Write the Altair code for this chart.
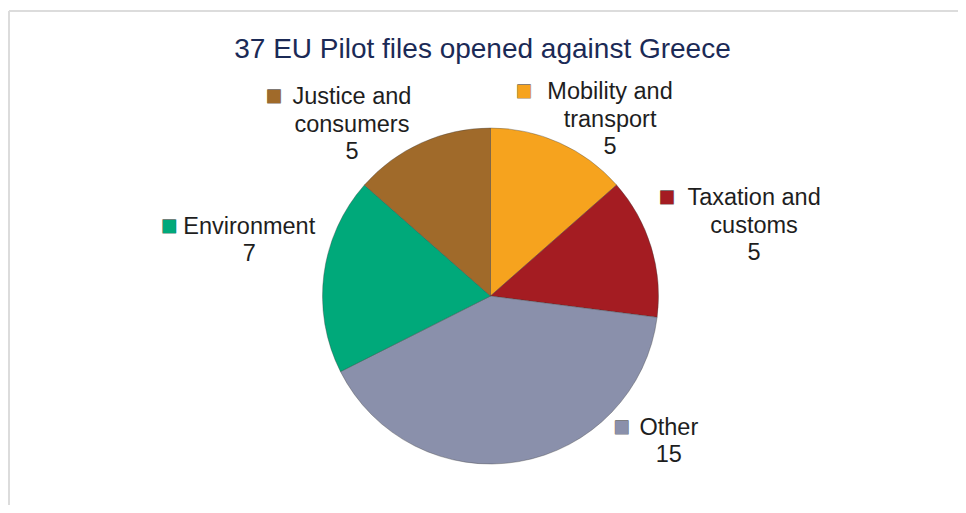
import altair as alt
import pandas as pd

# ---- data ----
categories = ["Mobility and transport", "Taxation and customs", "Other",
              "Environment", "Justice and consumers"]
label_lines = [["Mobility and", "transport"], ["Taxation and", "customs"], ["Other"],
               ["Environment"], ["Justice and", "consumers"]]
values = [5, 5, 15, 7, 5]
colors = ["#F6A31E", "#A41C22", "#8A90AB", "#00A97A", "#A06A2A"]
title_text = "37 EU Pilot files opened against Greece"

df = pd.DataFrame({
    "category": categories,
    "count": values,
    "order": list(range(len(categories))),
    "label": ["\n".join(lines + [str(v)]) for lines, v in zip(label_lines, values)],
})

# ---- layout (not data) ----
W, H = 935, 418
PAD = {"left": 15, "top": 79, "right": 0, "bottom": 0}
R = 168          # pie radius
LR = 215         # label anchor radius
# label dx, dy, marker dx, marker dy (relative to the label anchor on the slice's mid angle)
label_layout = {
    "Mobility and transport": (31, -8, -86, -1),
    "Taxation and customs": (58, -35, -87, -1),
    "Other": (142, -80, -47, -1),
    "Environment": (-28, -42, -80, -1),
    "Justice and consumers": (-50, -3, -78, -1),
}

color_scale = alt.Scale(domain=categories, range=colors)

base = alt.Chart(df).encode(
    theta=alt.Theta("count:Q", stack=True),
    order=alt.Order("order:Q"),
)

pie = base.mark_arc(outerRadius=R, stroke="#3a3a3a", strokeWidth=0.6, strokeOpacity=0.6).encode(
    color=alt.Color("category:N", scale=color_scale, legend=None)
)

layers = [pie]
for cat, col in zip(categories, colors):
    dx, dy, mdx, mdy = label_layout[cat]
    txt = base.mark_text(
        radius=LR, dx=dx, dy=dy, align="center", baseline="middle",
        lineBreak="\n", font="Liberation Sans", fontSize=23.5, lineHeight=27.5,
        color="#1e1e1e",
    ).encode(text=alt.condition(alt.datum.category == cat, "label:N", alt.value("")))
    marker = base.mark_text(
        radius=LR, dx=dx + mdx, dy=dy + mdy, align="center", baseline="middle",
        font="DejaVu Sans", fontSize=17.5, color=col, stroke="#333", strokeWidth=0.3,
    ).encode(text=alt.condition(alt.datum.category == cat, alt.value("■"), alt.value("")))
    layers += [txt, marker]

frame_df = pd.DataFrame({"k": [0]})
top_rule = alt.Chart(frame_df).mark_rule(color="#DCDCDC", strokeWidth=2).encode(
    x=alt.value(-14), x2=alt.value(W), y=alt.value(-76)
)
left_rule = alt.Chart(frame_df).mark_rule(color="#DCDCDC", strokeWidth=2).encode(
    x=alt.value(-14), y=alt.value(-76), y2=alt.value(H)
)

chart = alt.layer(top_rule, left_rule, *layers).properties(
    width=W, height=H,
    autosize=alt.AutoSizeParams(type="none"),
    padding=PAD,
    title=alt.TitleParams(text=title_text, fontSize=28, font="Liberation Sans",
                          fontWeight="normal", color="#1B2A56", anchor="middle",
                          frame="group", baseline="alphabetic", offset=-78, dx=-8),
    background="white",
).configure_view(strokeWidth=0)

chart.save("out.html", embed_options={"renderer": "svg", "actions": False})
